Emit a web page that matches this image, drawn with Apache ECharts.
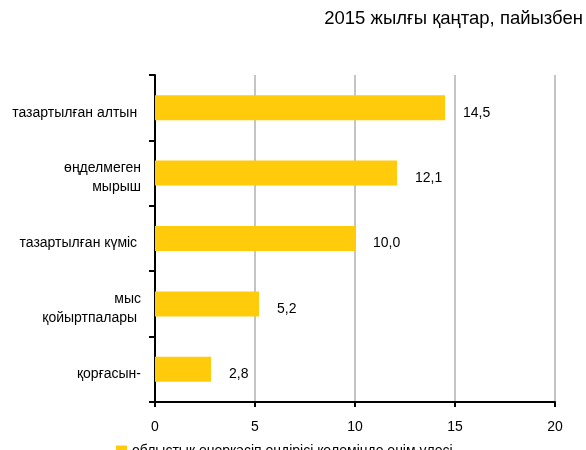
<!DOCTYPE html>
<html><head><meta charset="utf-8">
<script src="https://cdn.jsdelivr.net/npm/echarts@6/dist/echarts.min.js"></script>
<style>html,body{margin:0;padding:0;background:#fff}#c{width:586px;height:450px}</style>
</head><body><div id="c"></div>
<script>
var categories = ["тазартылған алтын ", "өңделмеген\nмырыш", "тазартылған күміс ", "мыс\nқойыртпалары ", "қорғасын-"];
var values = [14.5, 12.1, 10.0, 5.2, 2.8];
var valueTicks = [0, 5, 10, 15, 20];
var titleText = "2015 жылғы қаңтар, пайызбен";
var seriesName = "облыстық өнеркәсіп өндірісі көлемінде өнім үлесі";

var font = "Liberation Sans, Arial, sans-serif";
var chart = echarts.init(document.getElementById('c'), null, {renderer: 'canvas'});
chart.setOption({
  animation: false,
  title: {text: titleText, right: 3, top: 9, padding: [0, 0], textStyle: {fontFamily: font, fontSize: 18.5, fontWeight: 'normal', color: '#000'}},
  legend: {left: 111, top: 439, itemWidth: 11, itemHeight: 11, itemGap: 6, icon: 'rect',
    textStyle: {fontFamily: font, fontSize: 14, color: '#000'}, data: [seriesName]},
  grid: {left: 155, right: 31, top: 75, bottom: 48, containLabel: false},
  xAxis: {type: 'value', min: valueTicks[0], max: valueTicks[valueTicks.length-1], interval: 5,
    axisLine: {show: true, lineStyle: {color: '#000', width: 2}},
    axisTick: {show: true, length: 5, lineStyle: {color: '#000', width: 2}},
    axisLabel: {fontFamily: font, fontSize: 14, color: '#000', margin: 18},
    splitLine: {show: true, lineStyle: {color: '#C4C4C4', width: 2}}},
  yAxis: {type: 'category', data: categories, inverse: true,
    axisLine: {show: true, lineStyle: {color: '#000', width: 2}},
    axisTick: {show: true, length: 6, lineStyle: {color: '#000', width: 2}},
    axisLabel: {fontFamily: font, fontSize: 14, color: '#000', margin: 14, align: 'right',
      formatter: function(v){
        var parts = v.split('\n');
        var out = '{e| }';
        for (var i = 0; i < parts.length; i++) out += '\n{b|' + parts[i] + '}';
        return out;
      },
      rich: {
        e: {fontSize: 1, lineHeight: 10},
        b: {fontFamily: font, fontSize: 14, color: '#000', lineHeight: 19, align: 'right'}
      }}},
  series: [{name: seriesName, type: 'bar', data: values, barWidth: 25,
    itemStyle: {color: '#FFCB0A'},
    label: {show: true, position: 'right', distance: 18, offset: [0, 5], fontFamily: font, fontSize: 14, color: '#000',
      formatter: function(p){return p.value.toFixed(1).replace('.', ',');}}}]
});
</script></body></html>
